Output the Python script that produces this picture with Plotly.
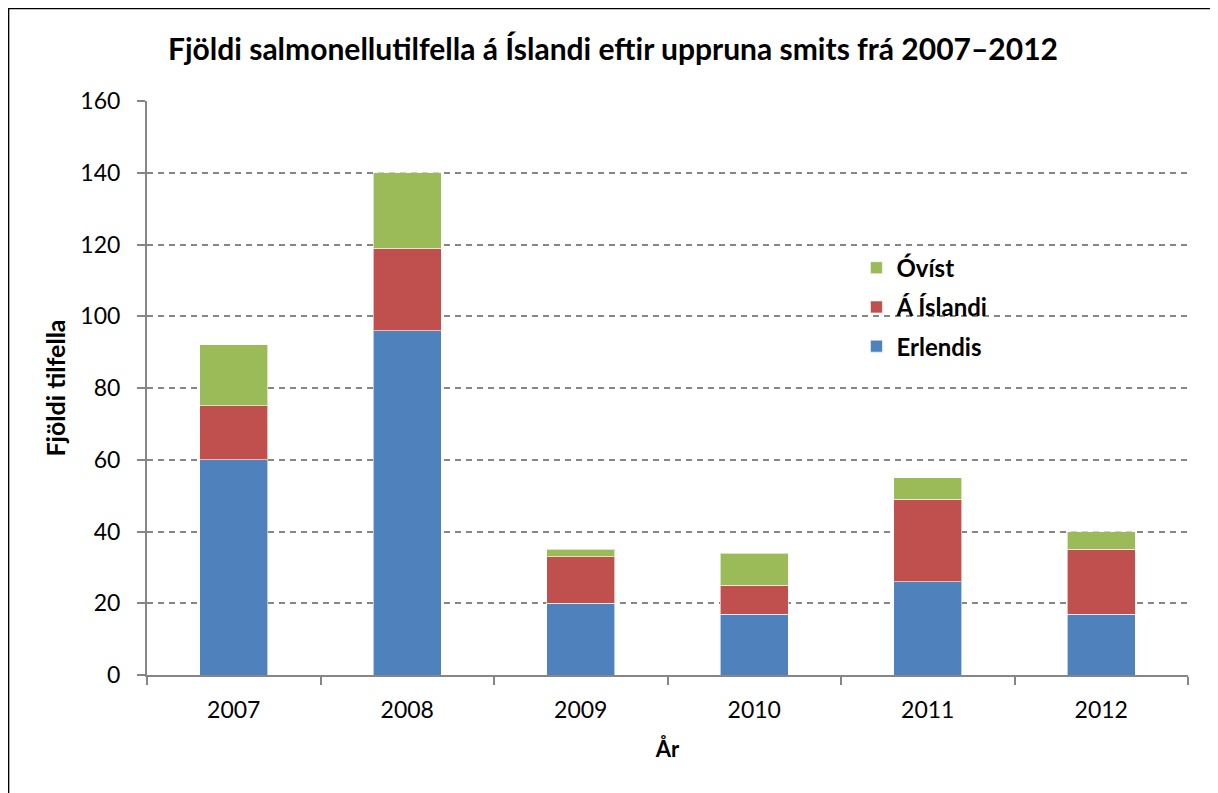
import plotly.graph_objects as go

years = ["2007", "2008", "2009", "2010", "2011", "2012"]
erlendis = [60, 96, 20, 17, 26, 17]
a_islandi = [15, 23, 13, 8, 23, 18]
ovist = [17, 21, 2, 9, 6, 5]

series = [
    ("Erlendis", erlendis, "#4F81BD", 3),
    ("Á Íslandi", a_islandi, "#C0504D", 2),
    ("Óvíst", ovist, "#9BBB59", 1),
]

FONT = "Lato, 'Open Sans', sans-serif"
GRID = "#868686"

fig = go.Figure()
for name, vals, color, rank in series:
    fig.add_trace(
        go.Bar(
            x=years,
            y=vals,
            name=f"<b>{name}</b>",
            legendgroup=name,
            legendrank=rank,
            marker=dict(color=color, line=dict(color="rgba(255,255,255,0.6)", width=1)),
        )
    )

# page body has an 8px margin, so the figure is drawn 8px smaller
fig.update_layout(
    width=1210,
    height=785,
    barmode="stack",
    bargap=0.61,
    plot_bgcolor="white",
    paper_bgcolor="white",
    font=dict(family=FONT, size=22, color="black"),
    margin=dict(l=139, r=30, t=93, b=118, autoexpand=False),
    title=dict(
        text="<b>Fjöldi salmonellutilfella á Íslandi eftir uppruna smits frá 2007–2012</b>",
        x=0.5,
        xanchor="center",
        y=0.947,
        yanchor="middle",
        font=dict(size=30, family=FONT),
    ),
    legend=dict(
        x=0.6815,
        y=0.748,
        xanchor="left",
        yanchor="top",
        traceorder="grouped",
        tracegroupgap=5,
        font=dict(size=24, family=FONT),
        bgcolor="rgba(0,0,0,0)",
        itemwidth=30,
    ),
    shapes=[
        dict(
            type="rect",
            xref="paper",
            yref="paper",
            x0=-0.1332,
            x1=1.026,
            y0=-0.25,
            y1=1.1615,
            line=dict(color="black", width=2),
            fillcolor="rgba(0,0,0,0)",
            layer="below",
        )
    ],
)

fig.update_xaxes(
    title=dict(text="<b>År</b>", font=dict(size=22), standoff=20),
    showline=True,
    linecolor=GRID,
    linewidth=2,
    ticks="outside",
    tickson="boundaries",
    ticklen=8,
    tickwidth=2,
    tickcolor=GRID,
    showgrid=False,
    tickfont=dict(size=23),
    ticklabelstandoff=13,
)

fig.update_yaxes(
    title=dict(text="<b>Fjöldi tilfella</b>", font=dict(size=25), standoff=8),
    range=[0, 160],
    dtick=20,
    showline=True,
    linecolor=GRID,
    linewidth=2,
    ticks="outside",
    ticklen=8,
    tickwidth=2,
    tickcolor=GRID,
    showgrid=True,
    gridcolor=GRID,
    gridwidth=1.8,
    griddash="6px,5px",
    zeroline=False,
    tickfont=dict(size=23),
    ticklabelstandoff=12,
)

fig.write_html("out.html")
